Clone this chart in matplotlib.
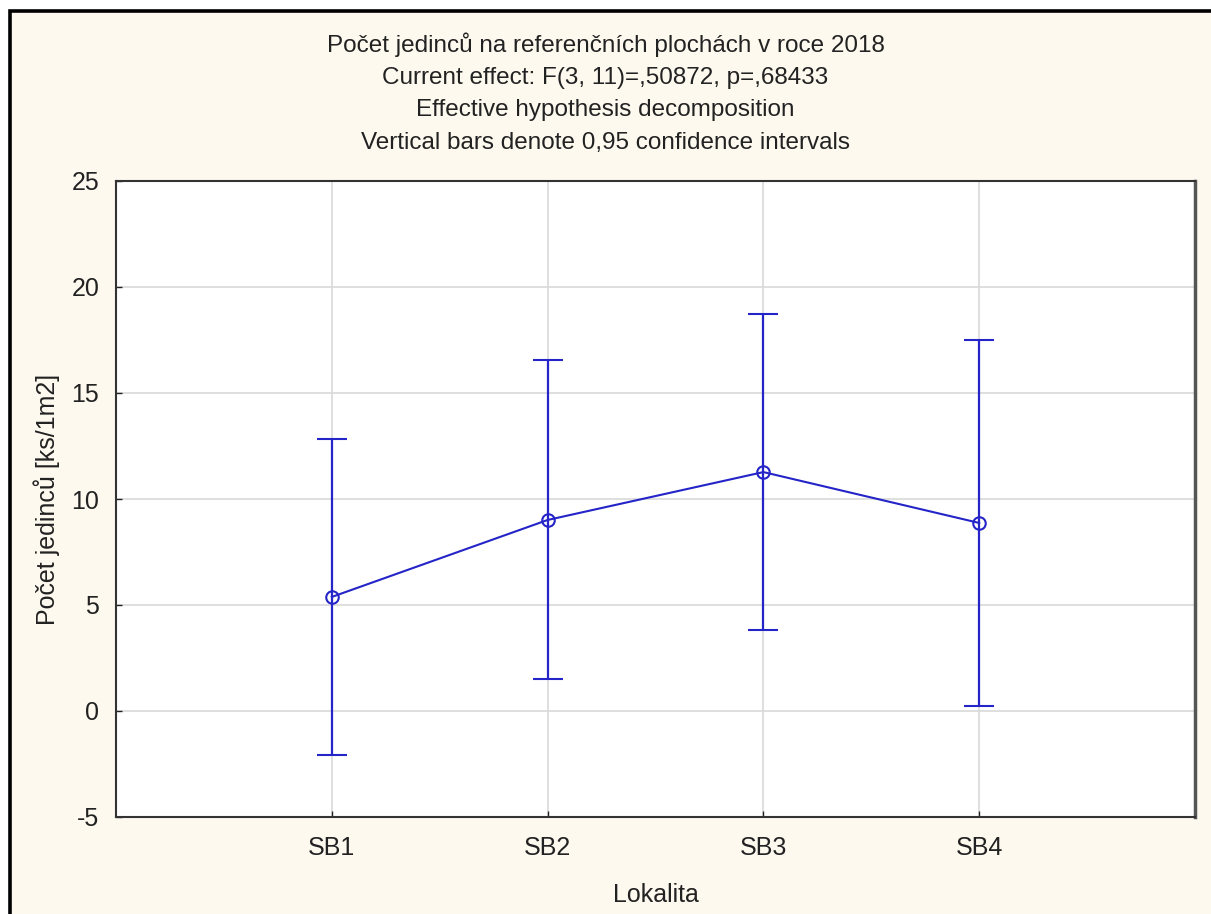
import matplotlib.pyplot as plt
from matplotlib.patches import Rectangle

plt.rcParams['font.family'] = ['Liberation Sans', 'DejaVu Sans']
plt.rcParams['axes.unicode_minus'] = False

# data
lokality = ["SB1", "SB2", "SB3", "SB4"]
prumer = [5.38, 9.01, 11.27, 8.87]
ci_dolni = [-2.08, 1.51, 3.82, 0.24]
ci_horni = [12.83, 16.56, 18.73, 17.50]

nadpis = [
    "Počet jedinců na referenčních plochách v roce 2018",
    "Current effect: F(3, 11)=,50872, p=,68433",
    "Effective hypothesis decomposition",
    "Vertical bars denote 0,95 confidence intervals",
]

W, H = 1211, 914
fig = plt.figure(figsize=(W / 100, H / 100), dpi=100, facecolor="white")

# cream panel with black frame (right/bottom edge cut off)
fig.add_artist(Rectangle((9.5 / W, -0.1), 1.2, (1 - 11.5 / H) + 0.1,
                         transform=fig.transFigure, facecolor="#fdf9ef",
                         edgecolor="black", linewidth=2.6, zorder=-1))

ax = fig.add_axes([116 / W, 1 - 817 / H, (1195 - 116) / W, (817 - 181) / H])
ax.set_facecolor("white")

x = list(range(1, len(lokality) + 1))
err_dn = [m - l for m, l in zip(prumer, ci_dolni)]
err_up = [h - m for m, h in zip(prumer, ci_horni)]
barva = "#2424c8"
ax.errorbar(x, prumer, yerr=[err_dn, err_up], color=barva, ecolor=barva,
            linewidth=1.5, elinewidth=1.6, capsize=11, capthick=1.6,
            marker="o", markersize=9, markerfacecolor="none",
            markeredgecolor=barva, markeredgewidth=1.5, zorder=3)

ax.set_xlim(0, 5)
ax.set_ylim(-5, 25)
ax.set_xticks(x)
ax.set_xticklabels(lokality)
ax.set_yticks(range(-5, 26, 5))
ax.grid(True, color="#d9d9d9", linewidth=1.2)
ax.set_axisbelow(True)
ax.tick_params(direction="in", length=4, width=1, colors="#222222",
               labelsize=18, labelcolor="#222222")
ax.tick_params(axis="x", pad=14)
ax.tick_params(axis="y", pad=12)
for s in ax.spines.values():
    s.set_color("#333333")
    s.set_linewidth(1.5)
ax.spines["right"].set_linewidth(2.5)
ax.spines["right"].set_color("#555555")

ax.set_xlabel("Lokalita", fontsize=18, color="#222222", labelpad=16)
ax.set_ylabel("Počet jedinců [ks/1m2]", fontsize=18, color="#222222", labelpad=8)

radky_y = [45, 78, 110, 143]
for t, yy in zip(nadpis, radky_y):
    fig.text(0.5, 1 - yy / H, t, ha="center", va="center", fontsize=17.5, color="#222222")

fig.savefig("out.png", dpi=100, facecolor=fig.get_facecolor())
